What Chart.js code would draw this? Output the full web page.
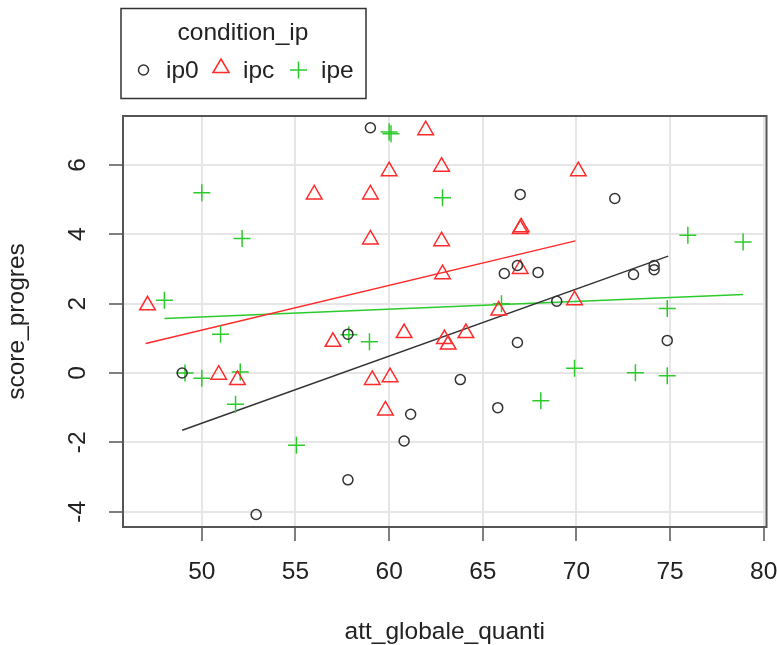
<!DOCTYPE html>
<html>
<head>
<meta charset="utf-8">
<script src="https://cdn.jsdelivr.net/npm/chart.js@4.4.1/dist/chart.umd.min.js"></script>
<style>
  body { margin: 0; background: #fff; }
  canvas { display: block; }
</style>
</head>
<body>
<canvas id="chart" width="777" height="645"></canvas>
<script>
// data

const xTitle = "att_globale_quanti";
const yTitle = "score_progres";
const legendTitle = "condition_ip";
const groups = ["ip0", "ipc", "ipe"];

const xTicks = [50, 55, 60, 65, 70, 75, 80];
const yTicks = [-4, -2, 0, 2, 4, 6];

const ip0X = [48.95, 52.9, 57.8, 57.8, 59.0, 60.8, 61.15, 63.8, 65.8, 66.15,
              66.85, 66.85, 67.0, 67.95, 68.95, 72.05, 73.05, 74.15, 74.15, 74.85];
const ip0Y = [0.0, -4.08, 1.12, -3.08, 7.07, -1.96, -1.19, -0.19, -1.0, 2.87,
              0.88, 3.1, 5.15, 2.9, 2.07, 5.03, 2.84, 3.1, 2.98, 0.94];

const ipcX = [47.1, 50.9, 51.9, 56.0, 57.0, 59.0, 59.0, 59.1, 59.8, 60.0, 60.05, 60.8, 61.95,
              62.8, 62.8, 62.85, 62.95, 63.15, 64.1, 65.85, 67.0, 67.05, 67.0, 69.9, 70.1];
const ipcY = [1.95, -0.05, -0.2, 5.15, 0.9, 5.15, 3.85, -0.2, -1.08, 5.82, -0.12, 1.15, 7.0,
              5.95, 3.8, 2.85, 0.98, 0.82, 1.15, 1.8, 4.15, 4.2, 3.0, 2.1, 5.82];

const ipeX = [48.0, 49.1, 50.0, 50.0, 51.0, 51.8, 52.05, 52.15, 55.05, 57.85, 58.95,
              60.0, 60.1, 62.85, 66.0, 68.1, 69.9, 73.15, 74.85, 74.85, 75.95, 78.9];
const ipeY = [2.1, 0.0, 5.2, -0.15, 1.12, -0.9, 0.03, 3.88, -2.08, 1.1, 0.9,
              6.95, 6.9, 5.05, 2.0, -0.8, 0.14, 0.01, 1.86, -0.08, 3.97, 3.78];

// fitted lines, end points
const ip0FitX = [48.95, 74.9];
const ip0FitY = [-1.65, 3.37];
const ipcFitX = [47.0, 69.95];
const ipcFitY = [0.85, 3.81];
const ipeFitX = [48.0, 78.9];
const ipeFitY = [1.57, 2.26];

// helpers

const FONT = '"Liberation Sans", Arial, Helvetica, sans-serif';
const BLACK = "#333333";
const RED = "#ff2a2a";
const GREEN = "#2ccb2c";

function toPoints(xs, ys) {
    return xs.map((x, i) => ({ x: x, y: ys[i] }));
}

function fitLine(xs, ys, color) {
    return {
        type: "line",
        data: toPoints(xs, ys),
        borderColor: color,
        borderWidth: 1.5,
        pointRadius: 0,
        fill: false
    };
}

// draws what R draws outside the library: box, rotated y labels, titles, legend
const rExtras = {
    id: "rExtras",
    afterDraw(chart) {
        const { ctx, chartArea: a, scales } = chart;
        ctx.save();

        ctx.strokeStyle = "#555";
        ctx.lineWidth = 2;
        ctx.strokeRect(a.left, a.top, a.right - a.left, a.bottom - a.top);

        ctx.fillStyle = "#222";
        ctx.font = "24.5px " + FONT;
        ctx.textAlign = "center";
        ctx.textBaseline = "alphabetic";
        yTicks.forEach(v => {
            ctx.save();
            ctx.translate(85, scales.y.getPixelForValue(v));
            ctx.rotate(-Math.PI / 2);
            ctx.fillText(String(v), 0, 0);
            ctx.restore();
        });

        ctx.fillText(xTitle, (a.left + a.right) / 2, 639);
        ctx.save();
        ctx.translate(24, (a.top + a.bottom) / 2);
        ctx.rotate(-Math.PI / 2);
        ctx.fillText(yTitle, 0, 0);
        ctx.restore();

        // legend box
        ctx.strokeStyle = "#333";
        ctx.lineWidth = 1.5;
        ctx.strokeRect(121, 8.5, 245, 90);
        ctx.fillText(legendTitle, 243, 40);

        ctx.textAlign = "left";
        ctx.lineWidth = 1.5;
        // circle
        ctx.strokeStyle = BLACK;
        ctx.beginPath();
        ctx.arc(143.5, 70, 5, 0, Math.PI * 2);
        ctx.stroke();
        ctx.fillText(groups[0], 166, 78);
        // triangle
        ctx.strokeStyle = RED;
        ctx.beginPath();
        ctx.moveTo(221, 59);
        ctx.lineTo(229, 72.5);
        ctx.lineTo(213, 72.5);
        ctx.closePath();
        ctx.stroke();
        ctx.fillText(groups[1], 243, 78);
        // plus
        ctx.strokeStyle = GREEN;
        ctx.beginPath();
        ctx.moveTo(290, 70); ctx.lineTo(307, 70);
        ctx.moveTo(298.5, 61.5); ctx.lineTo(298.5, 78.5);
        ctx.stroke();
        ctx.fillText(groups[2], 321, 78);

        ctx.restore();
    }
};

// chart

new Chart(document.getElementById("chart"), {
    type: "scatter",
    data: {
        datasets: [
            {
                label: groups[0],
                data: toPoints(ip0X, ip0Y),
                pointStyle: "circle",
                pointRadius: 5,
                borderColor: BLACK,
                backgroundColor: "rgba(0,0,0,0)",
                borderWidth: 1.5
            },
            {
                label: groups[1],
                data: toPoints(ipcX, ipcY),
                pointStyle: "triangle",
                pointRadius: 9,
                borderColor: RED,
                backgroundColor: "rgba(0,0,0,0)",
                borderWidth: 1.5
            },
            {
                label: groups[2],
                data: toPoints(ipeX, ipeY),
                pointStyle: "cross",
                pointRadius: 8.5,
                borderColor: GREEN,
                backgroundColor: "rgba(0,0,0,0)",
                borderWidth: 1.5
            },
            fitLine(ip0FitX, ip0FitY, BLACK),
            fitLine(ipcFitX, ipcFitY, RED),
            fitLine(ipeFitX, ipeFitY, GREEN)
        ]
    },
    options: {
        responsive: false,
        animation: false,
        events: [],
        layout: { padding: { top: 116, right: 9, left: 0, bottom: 0 } },
        plugins: {
            legend: { display: false },
            tooltip: { enabled: false }
        },
        scales: {
            x: {
                type: "linear",
                min: 45.79,
                max: 80.15,
                afterBuildTicks: s => { s.ticks = xTicks.map(v => ({ value: v })); },
                afterFit: s => { s.height = 118; s.paddingLeft = 0; s.paddingRight = 0; },
                grid: { color: "#e6e6e6", lineWidth: 2, tickLength: 14, tickColor: "#555", tickWidth: 1.5 },
                border: { display: false },
                ticks: {
                    color: "#222",
                    font: { family: FONT, size: 24.5 },
                    padding: 17,
                    maxRotation: 0,
                    autoSkip: false
                }
            },
            y: {
                type: "linear",
                min: -4.44,
                max: 7.41,
                afterBuildTicks: s => { s.ticks = yTicks.map(v => ({ value: v })); },
                afterFit: s => { s.width = 123; s.paddingTop = 0; s.paddingBottom = 0; },
                grid: { color: "#e6e6e6", lineWidth: 2, tickLength: 14, tickColor: "#555", tickWidth: 1.5 },
                border: { display: false },
                ticks: { display: false }
            }
        }
    },
    plugins: [rExtras]
});
</script>
</body>
</html>
